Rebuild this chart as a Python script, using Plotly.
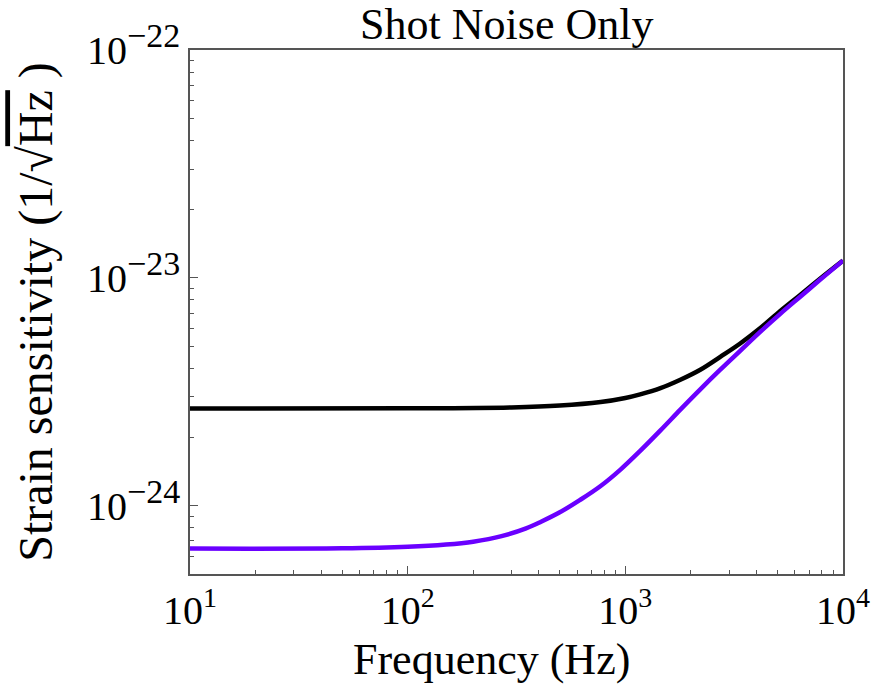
import plotly.graph_objects as go

freq_black = [10, 100, 300, 500, 770, 1000, 1170, 1450, 1790, 2210, 2730, 3370, 4200, 5150, 6400, 7840, 10000]
strain_black = [2.67e-24, 2.675e-24, 2.70e-24, 2.75e-24, 2.85e-24, 2.97e-24, 3.08e-24, 3.28e-24,
                3.57e-24, 3.95e-24, 4.5e-24, 5.15e-24, 6.05e-24, 7.15e-24, 8.45e-24, 9.9e-24, 1.19e-23]

freq_purple = [10, 50, 100, 150, 200, 270, 350, 410, 500, 620, 770, 950, 1170, 1450, 1790, 2210,
               2730, 3370, 4200, 5150, 6400, 7840, 10000]
strain_purple = [6.48e-25, 6.5e-25, 6.6e-25, 6.75e-25, 6.95e-25, 7.35e-25, 7.95e-25, 8.5e-25, 9.35e-25,
                 1.06e-24, 1.22e-24, 1.44e-24, 1.74e-24, 2.14e-24, 2.64e-24, 3.24e-24, 3.95e-24,
                 4.78e-24, 5.83e-24, 6.95e-24, 8.3e-24, 9.8e-24, 1.19e-23]

x_tickvals = [10, 100, 1000, 10000]
x_ticktext = ["10<sup>1</sup>", "10<sup>2</sup>", "10<sup>3</sup>", "10<sup>4</sup>"]
y_tickvals = [1e-24, 1e-23, 1e-22]
y_ticktext = ["10<sup><span style='font-size:34px'>−24</span></sup>",
              "10<sup><span style='font-size:34px'>−23</span></sup>",
              "10<sup><span style='font-size:34px'>−22</span></sup>"]
x_minor = [m * 10 ** e for e in (1, 2, 3) for m in range(2, 10)]
y_minor = [m * 10.0 ** e for e in (-25, -24, -23) for m in range(2, 10)]

title_text = "Shot Noise Only"
x_title = "Frequency (Hz)"
y_title = "Strain sensitivity (1/√<span style='text-decoration:overline'>Hz</span> )"

fig = go.Figure()
fig.add_trace(go.Scatter(x=freq_black, y=strain_black, mode="lines",
                         line=dict(color="black", width=4.5, shape="spline", smoothing=1),
                         showlegend=False))
fig.add_trace(go.Scatter(x=freq_purple, y=strain_purple, mode="lines",
                         line=dict(color="#6a00ff", width=4.5, shape="spline", smoothing=1),
                         showlegend=False))

font_family = "Liberation Serif"
axis_common = dict(
    showline=True, linecolor="#555555", linewidth=1.5, mirror=True,
    ticks="inside", ticklen=8, tickwidth=1, tickcolor="#555555",
    showgrid=False, zeroline=False, automargin=False,
    tickfont=dict(family=font_family, size=40, color="black"),
)

fig.update_layout(
    width=886, height=687,
    margin=dict(l=190, r=43, t=50, b=113),
    paper_bgcolor="white", plot_bgcolor="white",
    title=dict(text=title_text, x=0.572, xanchor="center", y=0.965, yanchor="middle",
               font=dict(family=font_family, size=44, color="black")),
    xaxis=dict(type="log", range=[1, 4], tickvals=x_tickvals, ticktext=x_ticktext,
               minor=dict(tickmode="array", tickvals=x_minor, ticks="inside", ticklen=4,
                          tickwidth=1, tickcolor="#555555", showgrid=False),
               **axis_common),
    yaxis=dict(type="log", range=[-24.3, -22], tickvals=y_tickvals, ticktext=y_ticktext,
               minor=dict(tickmode="array", tickvals=y_minor, ticks="inside", ticklen=4,
                          tickwidth=1, tickcolor="#555555", showgrid=False),
               title=dict(text=y_title, font=dict(family=font_family, size=48, color="black"), standoff=19),
               **axis_common),
    annotations=[dict(text=x_title, xref="paper", yref="paper", x=0.462, y=-0.164,
                      xanchor="center", yanchor="middle", showarrow=False,
                      font=dict(family=font_family, size=44, color="black"))],
)

fig.write_html("out.html")
